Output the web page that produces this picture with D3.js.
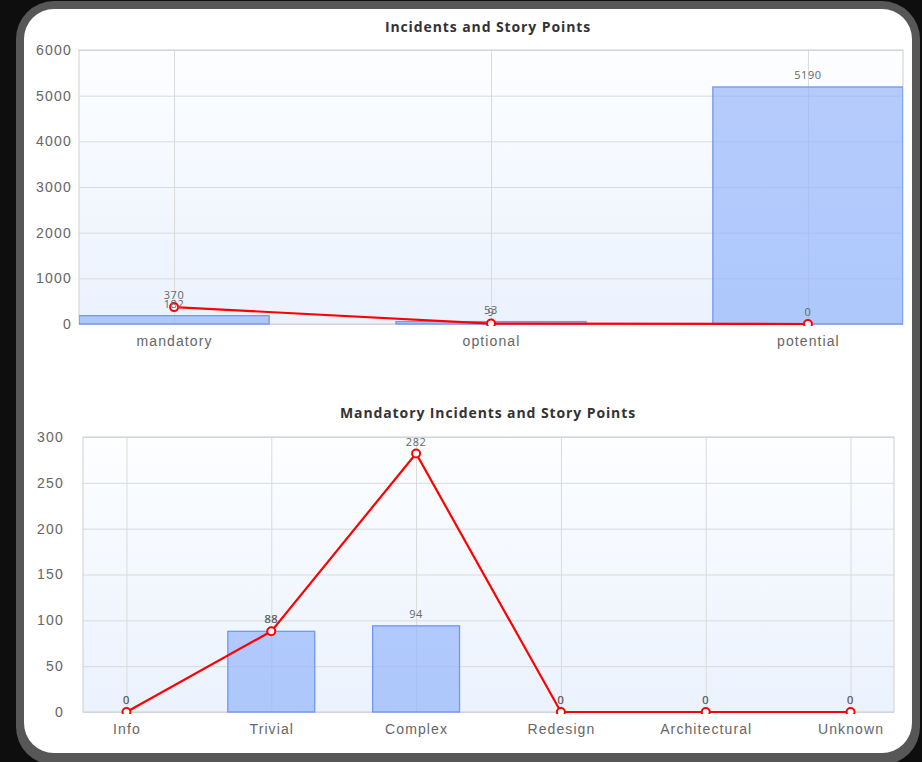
<!DOCTYPE html>
<html>
<head>
<meta charset="utf-8">
<script src="https://cdn.jsdelivr.net/npm/d3@7/dist/d3.min.js"></script>
<style>
  html, body { margin: 0; padding: 0; background: #0e0e0e; }
  svg { display: block; font-family: "Open Sans", "Noto Sans", sans-serif; }
</style>
</head>
<body>
<svg id="chart" width="922" height="762"></svg>
<script>
// Overview chart: incidents (bars) and story points (line) per category
const overviewCategories = ["mandatory", "optional", "potential"];
const overviewIncidents = [182, 53, 5190];
const overviewStoryPoints = [370, 9, 0];
const overviewTicks = [0, 1000, 2000, 3000, 4000, 5000, 6000];

// Mandatory breakdown chart
const mandatoryCategories = ["Info", "Trivial", "Complex", "Redesign", "Architectural", "Unknown"];
const mandatoryIncidents = [0, 88, 94, 0, 0, 0];
const mandatoryStoryPoints = [0, 88, 282, 0, 0, 0];
const mandatoryTicks = [0, 50, 100, 150, 200, 250, 300];

const svg = d3.select("#chart");

// Card frame
svg.append("rect").attr("x", 16).attr("y", 1).attr("width", 904).attr("height", 764)
  .attr("rx", 38).attr("fill", "#575757");
svg.append("rect").attr("x", 24).attr("y", 9).attr("width", 888).attr("height", 744)
  .attr("rx", 30).attr("fill", "#ffffff");

const defs = svg.append("defs");
const grad = defs.append("linearGradient").attr("id", "plotBg")
  .attr("x1", 0).attr("y1", 0).attr("x2", 0).attr("y2", 1);
grad.append("stop").attr("offset", "0%").attr("stop-color", "#fdfeff");
grad.append("stop").attr("offset", "100%").attr("stop-color", "#eaf2fe");

function drawChart(cfg) {
  const { left, right, top, bottom, title, titleY, categories, bars, line, ticks, yMax, tickX } = cfg;
  const g = svg.append("g");

  const x = d3.scalePoint().domain(categories).range([left, right]).padding(0.3);
  const y = d3.scaleLinear().domain([0, yMax]).range([bottom, top]);
  const barW = x.step() * 0.6;

  g.append("clipPath").attr("id", cfg.id + "-clip")
    .append("rect").attr("x", left).attr("y", top - 20).attr("width", right - left).attr("height", bottom - top + 22);

  // plot background
  g.append("rect").attr("x", left).attr("y", top).attr("width", right - left).attr("height", bottom - top)
    .attr("fill", "url(#plotBg)");

  // horizontal grid + y axis labels
  const yAxis = d3.axisLeft(y).tickValues(ticks).tickSize(-(right - left)).tickFormat(d3.format("d"));
  const ya = g.append("g").attr("transform", `translate(${left},0)`).call(yAxis);
  ya.select(".domain").remove();
  ya.selectAll(".tick line").attr("stroke", "#dadada");
  ya.selectAll(".tick text").attr("x", -(left - tickX)).attr("fill", "#666")
    .attr("font-size", 14).attr("letter-spacing", "1.2px");

  // vertical grid + category labels
  const xAxis = d3.axisBottom(x).tickSize(-(bottom - top)).tickPadding(12);
  const xa = g.append("g").attr("transform", `translate(0,${bottom})`).call(xAxis);
  xa.select(".domain").remove();
  xa.selectAll(".tick line").attr("stroke", "#dadada");
  xa.selectAll(".tick text").attr("fill", "#666").attr("font-size", 14).attr("letter-spacing", "1.1px");

  // plot border
  g.append("rect").attr("x", left).attr("y", top).attr("width", right - left).attr("height", bottom - top)
    .attr("fill", "none").attr("stroke", "#cfcfcf");

  const plot = g.append("g").attr("clip-path", `url(#${cfg.id}-clip)`);

  // incident bars
  plot.selectAll("rect.bar").data(bars).join("rect").attr("class", "bar")
    .attr("x", (d, i) => x(categories[i]) - barW / 2)
    .attr("y", d => y(d))
    .attr("width", barW)
    .attr("height", d => y(0) - y(d))
    .attr("fill", "#8fb0fa").attr("fill-opacity", 0.65)
    .attr("stroke", "#6f97f5").attr("stroke-width", 1.3);

  // story point line
  const lineGen = d3.line().x((d, i) => x(categories[i])).y(d => y(d));
  plot.append("path").datum(line).attr("d", lineGen)
    .attr("fill", "none").attr("stroke", "#ff0000").attr("stroke-width", 2.2);

  plot.selectAll("circle.pt").data(line).join("circle").attr("class", "pt")
    .attr("cx", (d, i) => x(categories[i])).attr("cy", d => y(d)).attr("r", 4)
    .attr("fill", "#fff").attr("stroke", "#ff0000").attr("stroke-width", 2);

  // value labels
  g.selectAll("text.barval").data(bars).join("text").attr("class", "barval")
    .attr("x", (d, i) => x(categories[i])).attr("y", d => y(d) - 8)
    .attr("text-anchor", "middle").attr("font-size", 11).attr("letter-spacing", "0.6px")
    .attr("fill", "#666").text(d => d);
  g.selectAll("text.lineval").data(line).join("text").attr("class", "lineval")
    .attr("x", (d, i) => x(categories[i])).attr("y", d => y(d) - 8)
    .attr("text-anchor", "middle").attr("font-size", 11).attr("letter-spacing", "0.6px")
    .attr("fill", "#666").text(d => d);

  // title
  g.append("text").attr("x", 488).attr("y", titleY)
    .attr("text-anchor", "middle").attr("font-size", 14).attr("font-weight", "bold")
    .attr("letter-spacing", "0.9px").attr("fill", "#333").text(title);
}

drawChart({
  id: "overview", left: 79, right: 903, top: 50, bottom: 324, tickX: 72,
  title: "Incidents and Story Points", titleY: 32,
  categories: overviewCategories, bars: overviewIncidents, line: overviewStoryPoints,
  ticks: overviewTicks, yMax: 6000
});

drawChart({
  id: "mandatory", left: 83, right: 894, top: 437, bottom: 712, tickX: 64,
  title: "Mandatory Incidents and Story Points", titleY: 418,
  categories: mandatoryCategories, bars: mandatoryIncidents, line: mandatoryStoryPoints,
  ticks: mandatoryTicks, yMax: 300
});
</script>
</body>
</html>
